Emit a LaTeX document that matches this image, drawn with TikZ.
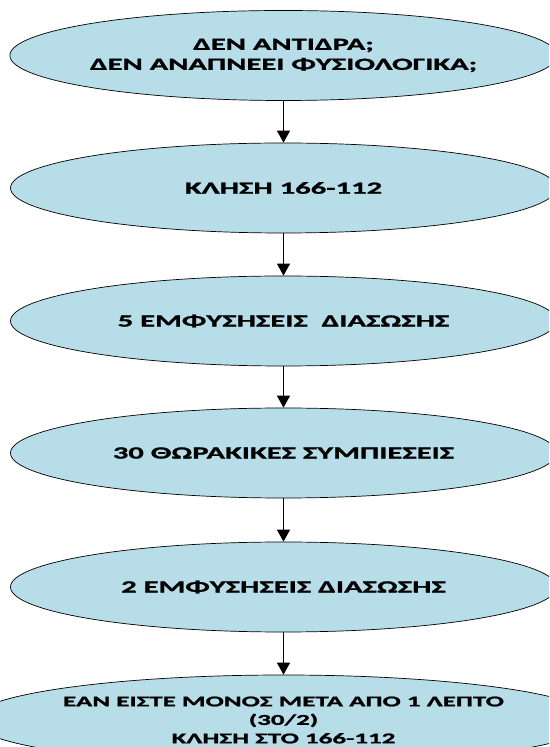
\documentclass[tikz,border=0pt]{standalone}
\usepackage{fontspec}
\setmainfont[FakeStretch=1.8, BoldFeatures={FakeBold=1.4}]{Carlito}
\usetikzlibrary{arrows.meta,shapes.geometric}
\definecolor{ovalfill}{HTML}{B7DDE8}
\tikzset{
  oval/.style={ellipse, draw=black, line width=0.7pt, fill=ovalfill,
    minimum width=546pt, minimum height=90pt, inner sep=0pt,
    font=\bfseries\fontsize{17}{20}\selectfont, align=center, text=black},
  arr/.style={line width=1.2pt, -{Triangle[width=13pt,length=12pt]}}
}
\begin{document}
\begin{tikzpicture}[x=1pt,y=1pt]
\useasboundingbox (0,0) rectangle (549,747);
\clip (0,0) rectangle (549,747);
\fill[white] (0,0) rectangle (549,747);
\node[oval] (e1) at (283.5,691.5) {ΔΕΝ ΑΝΤΙΔΡΑ;\\ΔΕΝ ΑΝΑΠΝΕΕΙ ΦΥΣΙΟΛΟΓΙΚΑ;};
\node[oval] (e2) at (283.5,559) {ΚΛΗΣΗ 166-112};
\node[oval] (e3) at (283.5,426) {5 ΕΜΦΥΣΗΣΕΙΣ \ ΔΙΑΣΩΣΗΣ};
\node[oval] (e4) at (283.5,294) {30 ΘΩΡΑΚΙΚΕΣ ΣΥΜΠΙΕΣΕΙΣ};
\node[oval] (e5) at (283.5,160) {2 ΕΜΦΥΣΗΣΕΙΣ ΔΙΑΣΩΣΗΣ};
\node[oval, font=\bfseries\fontsize{15}{18.5}\selectfont] (e6) at (283.5,27) {ΕΑΝ ΕΙΣΤΕ ΜΟΝΟΣ ΜΕΤΑ ΑΠΟ 1 ΛΕΠΤΟ\\(30/2)\\ΚΛΗΣΗ ΣΤΟ 166-112};
\draw[arr] (e1.south) -- (e2.north);
\draw[arr] (e2.south) -- (e3.north);
\draw[arr] (e3.south) -- (e4.north);
\draw[arr] (e4.south) -- (e5.north);
\draw[arr] (e5.south) -- (e6.north);
\end{tikzpicture}
\end{document}
